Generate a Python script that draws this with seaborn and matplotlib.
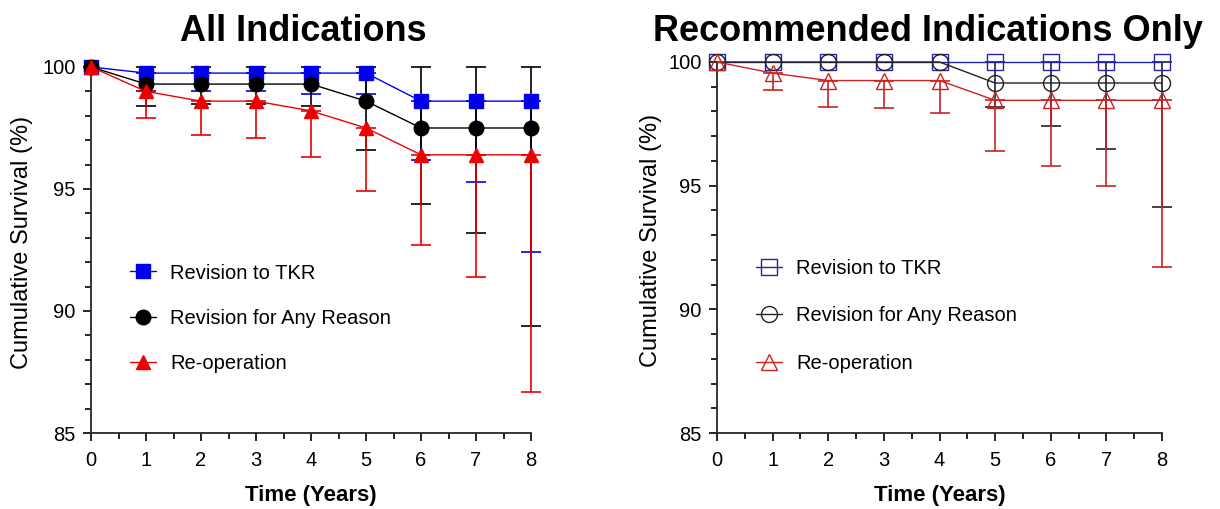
import numpy as np
import seaborn as sns
import matplotlib.pyplot as plt
from matplotlib.ticker import MultipleLocator

# Time points (years)
years = [0, 1, 2, 3, 4, 5, 6, 7, 8]
labels = ["Revision to TKR", "Revision for Any Reason", "Re-operation"]

# All indications: survival (%) and lower / upper 95% CI
tkr_all = [100, 99.75, 99.75, 99.75, 99.75, 99.75, 98.6, 98.6, 98.6]
tkr_all_lo = [100, 99.0, 99.0, 99.0, 98.9, 98.9, 96.2, 95.3, 92.4]
tkr_all_hi = [100, 99.75, 99.75, 99.75, 99.75, 99.75, 98.6, 98.6, 98.6]
any_all = [100, 99.3, 99.3, 99.3, 99.3, 98.6, 97.5, 97.5, 97.5]
any_all_lo = [100, 98.4, 98.5, 98.5, 98.4, 96.6, 94.4, 93.2, 89.4]
any_all_hi = [100, 100, 100, 100, 100, 100, 100, 100, 100]
reop_all = [100, 99.0, 98.6, 98.6, 98.2, 97.5, 96.4, 96.4, 96.4]
reop_all_lo = [100, 97.9, 97.2, 97.1, 96.3, 94.9, 92.7, 91.4, 86.7]
reop_all_hi = [100, 99.0, 98.6, 98.6, 98.2, 97.5, 96.4, 96.4, 96.4]

# Recommended indications only
tkr_rec = [100, 100, 100, 100, 100, 100, 100, 100, 100]
tkr_rec_lo = [100, 100, 100, 100, 100, 100, 100, 100, 100]
tkr_rec_hi = [100, 100, 100, 100, 100, 100, 100, 100, 100]
any_rec = [100, 100, 100, 100, 100, 99.15, 99.15, 99.15, 99.15]
any_rec_lo = [100, 100, 100, 100, 100, 98.2, 97.4, 96.5, 94.15]
any_rec_hi = [100, 100, 100, 100, 100, 100, 100, 100, 100]
reop_rec = [100, 99.55, 99.25, 99.25, 99.25, 98.45, 98.45, 98.45, 98.45]
reop_rec_lo = [100, 98.85, 98.2, 98.15, 97.95, 96.4, 95.8, 95.0, 91.7]
reop_rec_hi = [100, 99.55, 99.25, 99.25, 99.25, 98.45, 98.45, 98.45, 98.45]

sns.set_style("ticks")
plt.rcParams["font.family"] = ["Liberation Sans", "DejaVu Sans"]
plt.rcParams["text.color"] = "black"
plt.rcParams["axes.labelcolor"] = "black"
plt.rcParams["xtick.color"] = "black"
plt.rcParams["ytick.color"] = "black"

fig = plt.figure(figsize=(12.2, 5.09), dpi=100)
ax1 = fig.add_axes([0.0746, 0.1493, 0.3607, 0.7191])
ax2 = fig.add_axes([0.5877, 0.1493, 0.3648, 0.7289])


def draw_panel(ax, series, colors, markers, filled, title, title_x, title_pad,
               ylab_x, legend_anchor, spacing):
    # error bars: blue first, then red, black on top
    for k in [0, 2, 1]:
        vals, lo, hi = series[k]
        v, lo, hi = np.array(vals), np.array(lo), np.array(hi)
        m = (hi - lo) > 0
        if m.any():
            ax.errorbar(np.array(years)[m], v[m], yerr=[v[m] - lo[m], hi[m] - v[m]],
                        fmt="none", ecolor=colors[k], elinewidth=1.2, capsize=7,
                        capthick=1.2, zorder=2 + k * 0.1, clip_on=False)
    for i, ((vals, lo, hi), col, mk) in enumerate(zip(series, colors, markers)):
        sns.lineplot(x=years, y=vals, ax=ax, color=col, marker=mk,
                     markersize=10.5 if filled else 11.5,
                     markerfacecolor=col if filled else "none",
                     markeredgecolor=col, markeredgewidth=1.0,
                     linewidth=1.0, label=labels[i], zorder=3 + i,
                     clip_on=False)
    ax.set_xlim(0, 8)
    ax.set_ylim(85, 100)
    ax.xaxis.set_major_locator(MultipleLocator(1))
    ax.xaxis.set_minor_locator(MultipleLocator(0.5))
    ax.yaxis.set_major_locator(MultipleLocator(5))
    ax.yaxis.set_minor_locator(MultipleLocator(1))
    ax.tick_params(which="major", length=6, width=1.2, labelsize=14.5)
    ax.tick_params(axis="x", pad=7)
    ax.tick_params(axis="y", pad=5)
    ax.tick_params(which="minor", length=4, width=1.2)
    for s in ["left", "bottom"]:
        ax.spines[s].set_linewidth(1.3)
    sns.despine(ax=ax)
    ax.set_xlabel("Time (Years)", fontsize=16, fontweight="bold", labelpad=11)
    ax.set_ylabel("Cumulative Survival (%)", fontsize=17)
    ax.yaxis.set_label_coords(ylab_x, 0.52)
    ax.set_title(title, fontsize=26, fontweight="bold", x=title_x, pad=title_pad)
    ax.legend(loc="upper left", bbox_to_anchor=legend_anchor, frameon=False,
              fontsize=14.5, handlelength=1.3, labelspacing=spacing,
              handletextpad=0.7, borderaxespad=0)


draw_panel(ax1,
           [(tkr_all, tkr_all_lo, tkr_all_hi),
            (any_all, any_all_lo, any_all_hi),
            (reop_all, reop_all_lo, reop_all_hi)],
           ["#0000ee", "black", "#ee0000"], ["s", "o", "^"], True,
           "All Indications", 0.482, 19, -0.132, (0.07, 0.485), 1.3)
draw_panel(ax2,
           [(tkr_rec, tkr_rec_lo, tkr_rec_hi),
            (any_rec, any_rec_lo, any_rec_hi),
            (reop_rec, reop_rec_lo, reop_rec_hi)],
           ["#2222aa", "#222222", "#cc2222"], ["s", "o", "^"], False,
           "Recommended Indications Only", 0.474, 15, -0.124, (0.07, 0.49), 1.4)

fig.savefig("out.png", dpi=100)
